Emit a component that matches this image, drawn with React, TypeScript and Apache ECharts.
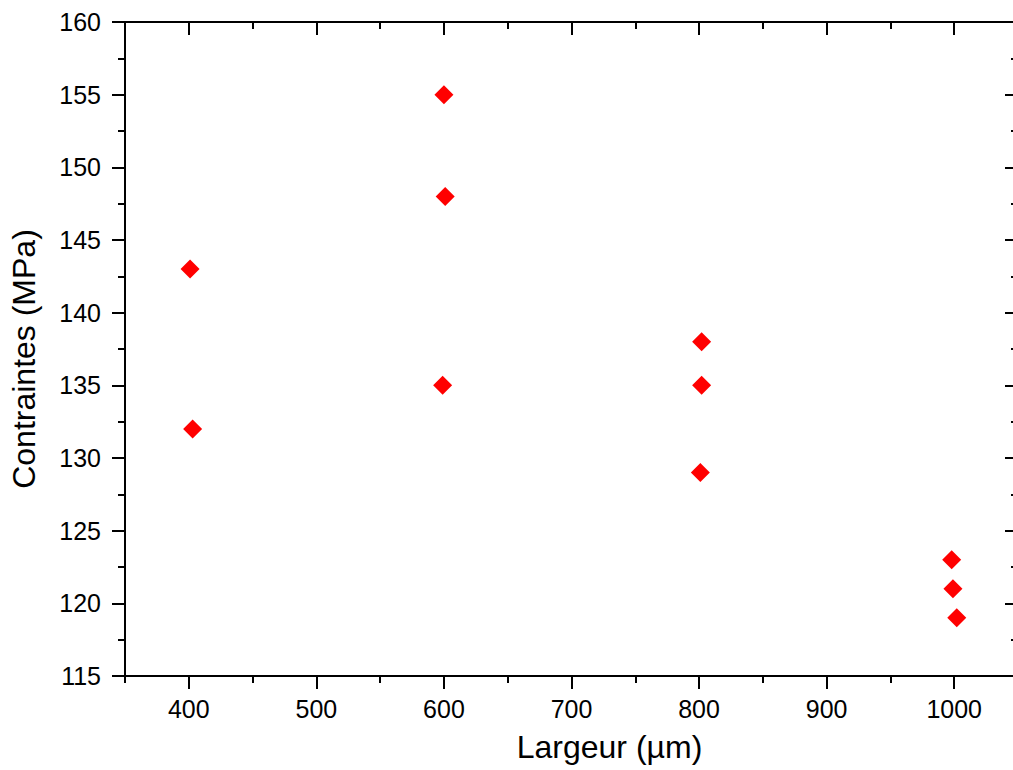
import React, { useEffect, useRef } from "react";
import * as echarts from "echarts";

const widths = [401, 403, 600, 601, 599, 802, 802, 801, 998, 999, 1002];
const stresses = [143, 132, 155, 148, 135, 138, 135, 129, 123, 121, 119];
const xRange = [350, 1050];
const xLabels = [400, 500, 600, 700, 800, 900, 1000];
const yRange = [115, 160];

export default function App() {
  const ref = useRef<HTMLDivElement>(null);
  useEffect(() => {
    if (!ref.current) return;
    const chart = echarts.init(ref.current, undefined, { renderer: "svg" });
    const font = "'Liberation Sans', Arial, sans-serif";
    const axisLine = { show: true, lineStyle: { color: "#000", width: 2 } };
    const tick = (inside: boolean, length: number) => ({
      show: true,
      inside,
      length,
      lineStyle: { color: "#000", width: 2 },
    });
    const minor = (length: number) => ({
      show: true,
      splitNumber: 2,
      length,
      lineStyle: { color: "#000", width: 2 },
    });
    const data = widths.map((w, i) => [w, stresses[i]]);
    chart.setOption({
      animation: false,
      backgroundColor: "#fff",
      grid: { left: 125, right: 12, top: 22, bottom: 94, containLabel: false },
      xAxis: [
        {
          type: "value",
          position: "bottom",
          min: xRange[0],
          max: xRange[1],
          interval: 100,
          name: "Largeur (µm)",
          nameLocation: "middle",
          nameGap: 55,
          nameTextStyle: {
            fontFamily: font,
            fontSize: 32,
            color: "#000",
            padding: [0, 0, 0, 76],
          },
          axisLine,
          // scale ticks fall on 350, 450, ... (the short ones); minor ticks on 400, 500, ... (the long ones)
          axisTick: tick(false, 7),
          minorTick: minor(13),
          axisLabel: {
            fontFamily: font,
            fontSize: 25,
            color: "#000",
            margin: 20,
            customValues: xLabels,
            formatter: (v: number) => String(v),
          },
          splitLine: { show: false },
        },
        {
          type: "value",
          position: "top",
          min: xRange[0],
          max: xRange[1],
          interval: 100,
          axisLine,
          axisTick: tick(true, 7),
          minorTick: minor(13),
          axisLabel: { show: false },
          splitLine: { show: false },
        },
      ],
      yAxis: [
        {
          type: "value",
          position: "left",
          min: yRange[0],
          max: yRange[1],
          interval: 5,
          name: "Contraintes (MPa)",
          nameLocation: "middle",
          nameGap: 85,
          nameTextStyle: {
            fontFamily: font,
            fontSize: 32,
            color: "#000",
            padding: [0, 20, 0, 0],
          },
          axisLine,
          axisTick: tick(false, 13),
          minorTick: minor(7),
          axisLabel: {
            fontFamily: font,
            fontSize: 25,
            color: "#000",
            margin: 24,
          },
          splitLine: { show: false },
        },
        {
          type: "value",
          position: "right",
          min: yRange[0],
          max: yRange[1],
          interval: 5,
          axisLine,
          axisTick: tick(true, 13),
          minorTick: minor(7),
          axisLabel: { show: false },
          splitLine: { show: false },
        },
      ],
      series: [
        {
          type: "scatter",
          xAxisIndex: 0,
          yAxisIndex: 0,
          symbol: "diamond",
          symbolSize: [19, 19],
          itemStyle: { color: "#ff0000", opacity: 1 },
          emphasis: { disabled: true },
          data,
        },
      ],
    });
    return () => chart.dispose();
  }, []);
  return (
    <div
      style={{
        position: "absolute",
        left: 0,
        top: 0,
        width: 1013,
        height: 770,
        overflow: "hidden",
        background: "#fff",
      }}
    >
      <div ref={ref} style={{ width: 1030, height: 770 }} />
    </div>
  );
}
